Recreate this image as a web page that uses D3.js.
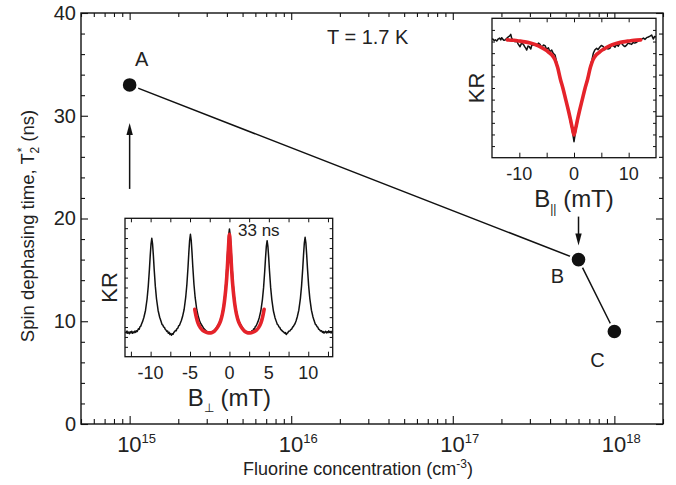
<!DOCTYPE html>
<html>
<head>
<meta charset="utf-8">
<script src="https://cdnjs.cloudflare.com/ajax/libs/d3/7.8.5/d3.min.js"></script>
<style>
  body { margin: 0; background: #fff; }
  svg { display: block; font-family: "Liberation Sans", Arial, Helvetica, sans-serif; }
</style>
</head>
<body>
<div id="chart"></div>
<script>
// Main panel: T2* against fluorine concentration
const concentration = [1e15, 6e17, 1e18];
const dephasingTime = [33, 16, 9];
const sampleNames = ["A", "B", "C"];
const decadeTicks = [1e15, 1e16, 1e17, 1e18];
const decadeExponents = ["15", "16", "17", "18"];
const timeTicks = [0, 10, 20, 30, 40];
const timeMinorTicks = [2, 4, 6, 8, 12, 14, 16, 18, 22, 24, 26, 28, 32, 34, 36, 38];

// Inset 1: Kerr rotation vs transverse field (sample A), [B (mT), KR (norm.)]
const perpTrace = [
  [-13.2,0.180],[-13.1,0.172],[-13.0,0.186],[-12.9,0.170],[-12.8,0.178],[-12.7,0.166],[-12.6,0.181],
  [-12.5,0.172],[-12.4,0.184],[-12.3,0.169],[-12.2,0.179],[-12.1,0.173],[-12.0,0.185],[-11.9,0.176],
  [-11.8,0.188],[-11.7,0.182],[-11.55,0.202],[-11.45,0.198],[-11.35,0.216],[-11.25,0.221],[-11.15,0.236],
  [-11.0,0.257],[-10.85,0.285],[-10.65,0.334],[-10.45,0.417],[-10.3,0.508],[-10.15,0.633],[-10.05,0.730],
  [-9.95,0.813],[-9.85,0.855],[-9.75,0.813],[-9.65,0.730],[-9.55,0.633],[-9.4,0.508],[-9.25,0.417],
  [-9.05,0.334],[-8.85,0.285],[-8.7,0.259],[-8.55,0.233],[-8.45,0.228],[-8.35,0.214],[-8.25,0.212],
  [-8.15,0.198],[-8.05,0.193],[-7.95,0.182],[-7.85,0.186],[-7.75,0.170],[-7.65,0.176],[-7.55,0.160],
  [-7.45,0.168],[-7.35,0.155],[-7.25,0.166],[-7.15,0.162],[-7.05,0.176],[-6.95,0.181],[-6.85,0.190],
  [-6.75,0.188],[-6.65,0.203],[-6.55,0.206],[-6.45,0.222],[-6.35,0.226],[-6.25,0.240],[-6.1,0.261],
  [-5.95,0.290],[-5.75,0.341],[-5.55,0.428],[-5.4,0.522],[-5.25,0.652],[-5.15,0.754],[-5.05,0.841],
  [-4.95,0.884],[-4.85,0.841],[-4.75,0.754],[-4.65,0.652],[-4.5,0.522],[-4.35,0.428],[-4.15,0.341],
  [-3.95,0.290],[-3.8,0.261],[-3.65,0.240],[-3.45,0.222],[-3.25,0.203],[-3.0,0.189],[-2.75,0.178],
  [-2.5,0.170],[-2.2,0.179],[-1.95,0.190],[-1.7,0.206],[-1.5,0.225],[-1.3,0.244],[-1.15,0.267],
  [-1.0,0.297],[-0.8,0.351],[-0.6,0.442],[-0.45,0.540],[-0.3,0.679],[-0.2,0.786],[-0.1,0.877],
  [0,0.923],[0.1,0.877],[0.2,0.786],[0.3,0.679],[0.45,0.540],[0.6,0.442],[0.8,0.351],[1.0,0.297],
  [1.15,0.267],[1.3,0.244],[1.5,0.225],[1.7,0.206],[1.95,0.190],[2.2,0.179],[2.4,0.170],[2.58,0.177],
  [2.7,0.170],[2.83,0.187],[2.95,0.183],[3.08,0.201],[3.18,0.198],[3.28,0.218],[3.38,0.222],[3.48,0.235],
  [3.63,0.255],[3.78,0.282],[3.98,0.330],[4.18,0.411],[4.33,0.499],[4.48,0.621],[4.58,0.716],[4.68,0.797],
  [4.78,0.838],[4.88,0.797],[4.98,0.716],[5.08,0.621],[5.23,0.499],[5.38,0.411],[5.58,0.330],[5.78,0.282],
  [5.93,0.257],[6.08,0.233],[6.18,0.229],[6.28,0.215],[6.38,0.212],[6.48,0.199],[6.6,0.192],[6.73,0.184],
  [6.85,0.180],[6.98,0.170],[7.1,0.174],[7.2,0.160],[7.3,0.168],[7.4,0.172],[7.52,0.184],[7.65,0.185],
  [7.78,0.196],[7.9,0.200],[8.0,0.212],[8.1,0.218],[8.2,0.228],[8.3,0.236],[8.45,0.258],[8.6,0.287],
  [8.8,0.336],[9.0,0.420],[9.15,0.512],[9.3,0.638],[9.4,0.736],[9.5,0.821],[9.6,0.863],[9.7,0.821],
  [9.8,0.736],[9.9,0.638],[10.05,0.512],[10.2,0.420],[10.4,0.336],[10.6,0.287],[10.75,0.259],[10.9,0.234],
  [11.0,0.230],[11.1,0.218],[11.2,0.214],[11.3,0.200],[11.42,0.196],[11.55,0.186],[11.68,0.188],
  [11.8,0.176],[11.9,0.182],[12.0,0.170],[12.1,0.178],[12.2,0.184],[12.3,0.172],[12.4,0.180],[12.5,0.174],
  [12.6,0.187],[12.7,0.176],[12.8,0.182],[12.9,0.171],[13.0,0.184],[13.1,0.177]
];
const perpFit = [
  [-4.4,0.342],[-4.2,0.285],[-4.0,0.245],[-3.7,0.210],[-3.4,0.190],[-3.0,0.178],[-2.6,0.172],
  [-2.2,0.175],[-1.9,0.185],[-1.6,0.205],[-1.3,0.235],[-1.1,0.262],[-0.9,0.305],[-0.7,0.370],
  [-0.55,0.440],[-0.4,0.530],[-0.3,0.610],[-0.2,0.710],[-0.1,0.810],[0,0.885],[0.1,0.810],
  [0.2,0.710],[0.3,0.610],[0.4,0.530],[0.55,0.440],[0.7,0.370],[0.9,0.305],[1.1,0.262],[1.3,0.235],
  [1.6,0.205],[1.9,0.185],[2.2,0.175],[2.6,0.172],[3.0,0.178],[3.4,0.190],[3.7,0.210],[4.0,0.245],
  [4.2,0.285],[4.4,0.342]
];
const perpTicks = [-12.5, -10, -7.5, -5, -2.5, 0, 2.5, 5, 7.5, 10, 12.5];
const perpTickLabels = [-10, -5, 0, 5, 10];

// Inset 2: Kerr rotation vs longitudinal field (sample B)
const parTrace = [
  [-15.0,0.850],[-14.85,0.852],[-14.6,0.840],[-14.4,0.846],[-14.14,0.837],[-13.9,0.850],[-13.6,0.858],
  [-13.4,0.845],[-13.22,0.861],[-13.0,0.849],[-12.8,0.842],[-12.61,0.844],[-12.3,0.856],[-12.0,0.868],
  [-11.8,0.872],[-11.57,0.885],[-11.4,0.858],[-11.1,0.842],[-10.79,0.832],[-10.5,0.838],[-10.2,0.815],
  [-9.87,0.796],[-9.6,0.822],[-9.26,0.813],[-9.0,0.795],[-8.8,0.784],[-8.65,0.772],[-8.4,0.801],
  [-8.17,0.796],[-7.9,0.780],[-7.7,0.812],[-7.44,0.808],[-7.1,0.818],[-6.8,0.806],[-6.5,0.822],
  [-6.22,0.813],[-5.9,0.790],[-5.6,0.808],[-5.3,0.804],[-5.0,0.778],[-4.69,0.789],[-4.4,0.760],
  [-4.08,0.772],[-3.8,0.748],[-3.47,0.737],[-3.2,0.690],[-3.0,0.655],[-2.5,0.570],[-2.0,0.490],
  [-1.5,0.410],[-1.0,0.325],[-0.6,0.250],[-0.3,0.190],[0,0.115],[0.3,0.190],[0.6,0.255],[1.0,0.330],
  [1.5,0.415],[2.0,0.500],[2.5,0.575],[3.0,0.660],[3.3,0.705],[3.53,0.749],[3.8,0.772],[4.14,0.785],
  [4.4,0.775],[4.7,0.792],[5.0,0.805],[5.36,0.796],[5.6,0.774],[5.9,0.792],[6.2,0.780],[6.58,0.785],
  [6.9,0.812],[7.19,0.804],[7.5,0.793],[7.8,0.813],[8.1,0.800],[8.4,0.822],[8.71,0.820],[9.0,0.806],
  [9.3,0.797],[9.63,0.808],[9.9,0.822],[10.2,0.818],[10.54,0.813],[10.8,0.826],[11.1,0.822],
  [11.46,0.828],[11.8,0.840],[12.1,0.846],[12.37,0.851],[12.7,0.858],[13.0,0.849],[13.28,0.861],
  [13.6,0.866],[13.9,0.872],[14.2,0.880],[14.5,0.851],[14.75,0.870],[15.0,0.866]
];
const parFit = [
  [-12.2,0.845],[-11,0.842],[-10,0.837],[-9,0.831],[-8,0.822],[-7,0.810],[-6,0.792],[-5,0.768],
  [-4.5,0.752],[-4,0.735],[-3.5,0.705],[-3,0.648],[-2.5,0.565],[-2,0.495],[-1.5,0.415],[-1,0.335],
  [-0.6,0.265],[-0.3,0.210],[0,0.163],[0.3,0.210],[0.6,0.265],[1,0.335],[1.5,0.415],[2,0.495],
  [2.5,0.565],[3,0.648],[3.5,0.705],[4,0.735],[4.5,0.752],[5,0.768],[6,0.792],[7,0.810],[8,0.822],
  [9,0.831],[10,0.837],[11,0.842],[12.2,0.845]
];
const parTicks = [-10, -5, 0, 5, 10];
const parTickLabels = [-10, 0, 10];

const FIT_RED = "#e5232a";

/*
  Draws one Kerr rotation inset inside a white box.
  box gives the pixel frame; the field scale comes from the domain.
*/
function drawInset(svg, box, opts) {
  const ig = svg.append("g").attr("transform", `translate(${box.x},${box.y})`);
  ig.append("rect").attr("width", box.w).attr("height", box.h).attr("fill", "#fff");

  const bx = d3.scaleLinear().domain(opts.domain).range([0, box.w]);
  const by = d3.scaleLinear().domain([0, 1]).range([box.h, 0]);
  const yTicks = d3.range(1, opts.yTickCount).map(i => i / opts.yTickCount);

  // inward ticks on all four sides
  ig.append("g").attr("transform", `translate(0,${box.h})`)
    .call(d3.axisBottom(bx).tickValues(opts.ticks).tickSize(-5).tickFormat(""));
  ig.append("g")
    .call(d3.axisTop(bx).tickValues(opts.ticks).tickSize(-4).tickFormat(""));
  ig.append("g")
    .call(d3.axisLeft(by).tickValues(yTicks).tickSize(-3).tickFormat(""));
  ig.append("g").attr("transform", `translate(${box.w},0)`)
    .call(d3.axisRight(by).tickValues(yTicks).tickSize(-3).tickFormat(""));
  ig.selectAll(".domain").remove();
  ig.selectAll(".tick line").attr("stroke", "#111");

  const clipId = opts.id + "-clip";
  ig.append("clipPath").attr("id", clipId)
    .append("rect").attr("width", box.w).attr("height", box.h);

  const line = d3.line().x(d => bx(d[0])).y(d => by(d[1]));
  ig.append("path").datum(opts.trace)
    .attr("clip-path", `url(#${clipId})`)
    .attr("fill", "none").attr("stroke", "#111").attr("stroke-width", 1.5)
    .attr("stroke-linejoin", "round")
    .attr("d", line);
  ig.append("path").datum(opts.fit)
    .attr("fill", "none").attr("stroke", FIT_RED).attr("stroke-width", 3.6)
    .attr("stroke-linecap", "round").attr("stroke-linejoin", "round")
    .attr("d", line.curve(d3.curveCatmullRom));

  ig.append("rect").attr("width", box.w).attr("height", box.h)
    .attr("fill", "none").attr("stroke", "#111").attr("stroke-width", 1.3);

  // tick labels
  ig.selectAll(".ilab").data(opts.labels).join("text")
    .attr("x", d => bx(d)).attr("y", box.h + 22)
    .attr("text-anchor", "middle").attr("font-size", 18).attr("fill", "#222")
    .text(d => d);

  // axis label with subscript
  const t = ig.append("text")
    .attr("x", bx(0)).attr("y", box.h + 49)
    .attr("text-anchor", "middle").attr("font-size", 24).attr("fill", "#222");
  t.append("tspan").text("B");
  t.append("tspan").attr("font-size", 12).attr("dy", 6).text(opts.sub);
  t.append("tspan").attr("dy", -6).text(" (mT)");

  ig.append("text")
    .attr("transform", `translate(-16,${box.h / 2}) rotate(-90)`)
    .attr("dy", "0.35em").attr("text-anchor", "middle")
    .attr("font-size", 22).attr("fill", "#222")
    .text("KR");

  return { ig, bx, by };
}

function drawChart(chartLocation, width, height, margin) {
  const svg = d3.select(chartLocation).append("svg")
    .attr("width", width + margin.left + margin.right)
    .attr("height", height + margin.top + margin.bottom);

  const g = svg.append("g")
    .attr("transform", `translate(${margin.left},${margin.top})`);

  const x = d3.scaleLog().domain([5e14, 2e18]).range([0, width]);
  const y = d3.scaleLinear().domain([0, 40]).range([height, 0]);

  const isDecade = v => decadeTicks.some(t => Math.abs(t - v) / t < 1e-6);
  const minorX = x.ticks().filter(v => !isDecade(v));

  // ticks point inward on every side
  g.append("g").attr("transform", `translate(0,${height})`)
    .call(d3.axisBottom(x).tickValues(minorX).tickSize(-5).tickFormat(""));
  g.append("g").attr("transform", `translate(0,${height})`)
    .call(d3.axisBottom(x).tickValues(decadeTicks).tickSize(-8).tickFormat(""));
  g.append("g")
    .call(d3.axisTop(x).tickValues(minorX).tickSize(-4).tickFormat(""));
  g.append("g")
    .call(d3.axisTop(x).tickValues(decadeTicks).tickSize(-7).tickFormat(""));

  g.append("g")
    .call(d3.axisLeft(y).tickValues(timeMinorTicks).tickSize(-4).tickFormat(""));
  g.append("g").attr("class", "y-axis")
    .call(d3.axisLeft(y).tickValues(timeTicks).tickSize(-7).tickPadding(5));
  g.append("g").attr("transform", `translate(${width},0)`)
    .call(d3.axisRight(y).tickValues(timeMinorTicks).tickSize(-4).tickFormat(""));
  g.append("g").attr("transform", `translate(${width},0)`)
    .call(d3.axisRight(y).tickValues(timeTicks).tickSize(-7).tickFormat(""));

  g.selectAll(".domain").remove();
  g.selectAll(".tick line").attr("stroke", "#111").attr("stroke-width", 1.1);
  g.select(".y-axis").selectAll("text")
    .attr("font-size", 20).attr("fill", "#222")
    .attr("font-family", "'Liberation Sans', Arial, sans-serif");

  // decade labels 10^n, the base centred on the tick
  const xlab = g.selectAll(".xlab").data(decadeTicks).join("text")
    .attr("x", d => x(d) - 12.5).attr("y", height + 28)
    .attr("font-size", 22).attr("fill", "#222");
  xlab.append("tspan").text("10");
  xlab.append("tspan").attr("font-size", 13).attr("dy", -9)
    .text((d, i) => decadeExponents[i]);

  g.append("rect").attr("width", width).attr("height", height)
    .attr("fill", "none").attr("stroke", "#111").attr("stroke-width", 1.4);

  // axis titles
  const xt = svg.append("text")
    .attr("x", 358).attr("y", 475)
    .attr("text-anchor", "middle").attr("font-size", 18).attr("fill", "#222");
  xt.append("tspan").text("Fluorine concentration (cm");
  xt.append("tspan").attr("font-size", 12).attr("dy", -7).text("-3");
  xt.append("tspan").attr("dy", 7).text(")");

  const yt = svg.append("text")
    .attr("transform", "translate(34,226) rotate(-90)")
    .attr("text-anchor", "middle").attr("font-size", 18.5).attr("fill", "#222");
  yt.append("tspan").text("Spin dephasing time, T");
  yt.append("tspan").attr("font-size", 12).attr("dy", -8).attr("dx", 1).text("*");
  yt.append("tspan").attr("font-size", 12).attr("dy", 13).attr("dx", -6).text("2");
  yt.append("tspan").attr("dy", -5).text(" (ns)");

  // data line and markers (white halo leaves the small gap seen at each dot)
  const points = concentration.map((c, i) => ({ c, t: dephasingTime[i], name: sampleNames[i] }));
  g.append("path").datum(points)
    .attr("fill", "none").attr("stroke", "#111").attr("stroke-width", 1.5)
    .attr("d", d3.line().x(d => x(d.c)).y(d => y(d.t)));
  g.selectAll(".dot").data(points).join("circle")
    .attr("cx", d => x(d.c)).attr("cy", d => y(d.t)).attr("r", 8)
    .attr("fill", "#111").attr("stroke", "#fff").attr("stroke-width", 2.4);

  const labelOffset = { A: [12, -19], B: [-21, 23], C: [-17, 35] };
  g.selectAll(".plab").data(points).join("text")
    .attr("x", d => x(d.c) + labelOffset[d.name][0])
    .attr("y", d => y(d.t) + labelOffset[d.name][1])
    .attr("text-anchor", "middle").attr("font-size", 20).attr("fill", "#222")
    .text(d => d.name);

  g.append("text")
    .attr("x", 246).attr("y", 31)
    .attr("font-size", 20).attr("fill", "#222")
    .text("T = 1.7 K");

  // arrows tying the insets to samples A and B
  function arrow(px, fromY, toY) {
    const dir = toY < fromY ? -1 : 1;
    g.append("line")
      .attr("x1", px).attr("x2", px)
      .attr("y1", fromY).attr("y2", toY - dir * 10)
      .attr("stroke", "#111").attr("stroke-width", 1.5);
    g.append("path")
      .attr("d", `M${px},${toY} L${px - 3.2},${toY - dir * 12} L${px + 3.2},${toY - dir * 12} Z`)
      .attr("fill", "#111");
  }
  arrow(x(concentration[0]), y(dephasingTime[0]) + 104, y(dephasingTime[0]) + 38);
  arrow(x(concentration[1]), y(dephasingTime[1]) - 43, y(dephasingTime[1]) - 14);

  // insets
  drawInset(svg, { x: 125, y: 218.3, w: 207.7, h: 138.4 }, {
    id: "perp", domain: [-13.25, 13.1], ticks: perpTicks, labels: perpTickLabels,
    yTickCount: 14, trace: perpTrace, fit: perpFit, sub: "\u22A5"
  });
  svg.append("text")
    .attr("x", 238).attr("y", 236)
    .attr("font-size", 17).attr("fill", "#222")
    .text("33 ns");

  drawInset(svg, { x: 492, y: 18.3, w: 164, h: 139.4 }, {
    id: "par", domain: [-15, 15], ticks: parTicks, labels: parTickLabels,
    yTickCount: 12, trace: parTrace, fit: parFit, sub: "||"
  });
}

drawChart("#chart", 582, 411, { top: 13, right: 13, bottom: 61, left: 81 });
</script>
</body>
</html>
